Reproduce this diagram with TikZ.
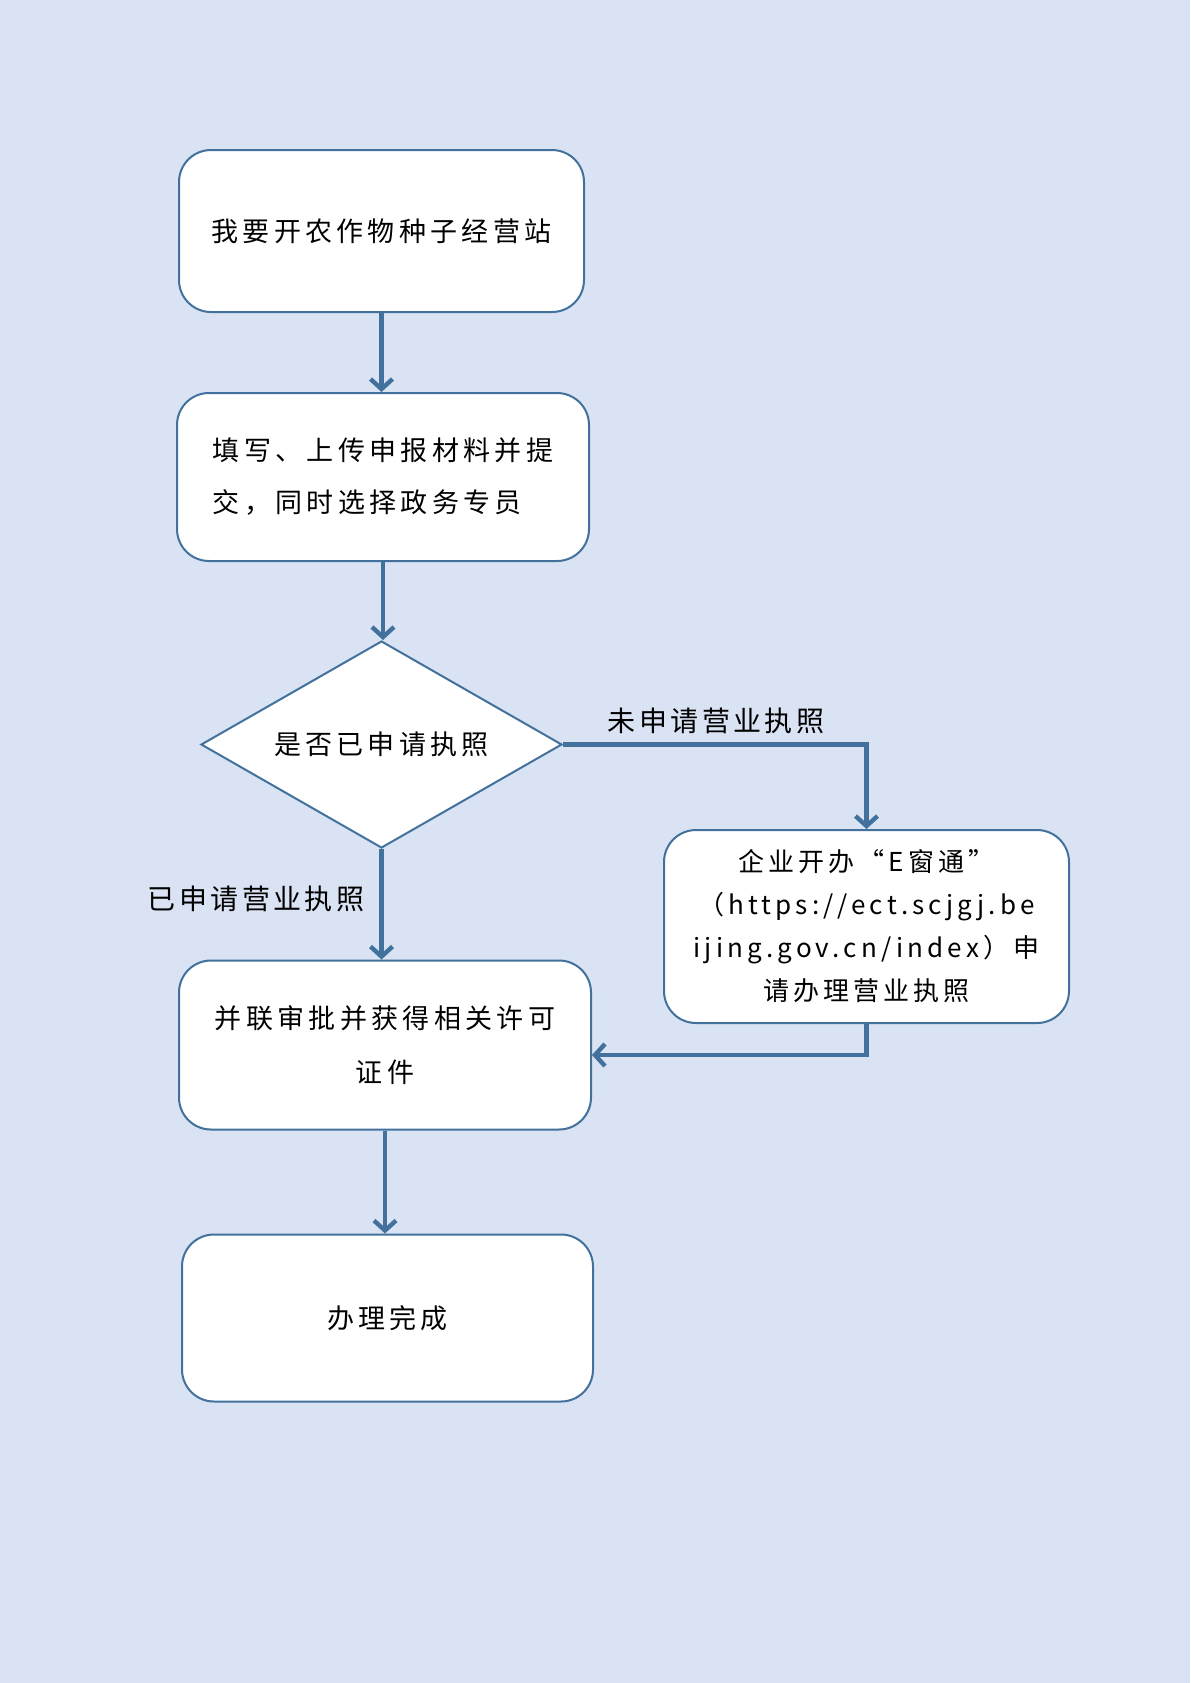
\documentclass[tikz,border=0pt]{standalone}
\usepackage{fontspec}
\newfontfamily\cjk[LetterSpace=16]{Noto Sans CJK SC}
\newfontfamily\cjklab[LetterSpace=12]{Noto Sans CJK SC}
\usetikzlibrary{arrows.meta, shapes.geometric}
\definecolor{pagebg}{HTML}{DAE3F3}
\definecolor{flowline}{HTML}{41719C}

\begin{document}
\begin{tikzpicture}[x=0.5pt, y=-0.5pt,
    stepbox/.style={shape=rectangle, rounded corners=16pt, draw=flowline, line width=1pt, fill=white, align=center, font=\cjk\fontsize{13.5}{26}\selectfont},
    askbox/.style={shape=diamond, aspect=1.75, draw=flowline, line width=1pt, fill=white, inner sep=0pt, font=\cjk\fontsize{13.5}{26}\selectfont},
    flowarrow/.style={draw=flowline, line width=2.2pt, -{Straight Barb[length=5pt, width=11pt]}},
    branchlabel/.style={font=\cjklab\fontsize{14}{17}\selectfont}]
\fill[pagebg] (0,0) rectangle (1190,1683);
\node[stepbox, minimum width=202.5pt, minimum height=81pt] (start) at (381.5, 231) {我要开农作物种子经营站};
\node[stepbox, minimum width=206pt, minimum height=84pt, align=left] (fill) at (383, 477) {填写、上传申报材料并提\\交，同时选择政务专员};
\node[askbox, minimum width=180.5pt, minimum height=103.5pt] (ask) at (381.5, 744.5) {是否已申请执照};
\node[stepbox, minimum width=202.5pt, minimum height=96.5pt, font=\cjk\fontsize{13}{21.5}\selectfont] (ewin) at (866.5, 926.5) {企业开办“E窗通”\\（https://ect.scjgj.be\\ijing.gov.cn/index）申\\请办理营业执照};
\node[stepbox, minimum width=206pt, minimum height=84.5pt, font=\cjk\fontsize{13.5}{27}\selectfont] (approve) at (385, 1045) {并联审批并获得相关许可\\证件};
\node[stepbox, minimum width=205.5pt, minimum height=83.5pt] (done) at (387.5, 1318) {办理完成};
\node[branchlabel] (nolic) at (716, 721) {未申请营业执照};
\node[branchlabel] (haslic) at (256, 899) {已申请营业执照};
\path[flowarrow] (start.south) -- (start.south |- fill.north);
\path[flowarrow] (fill.south) -- (fill.south |- ask.north);
\path[flowarrow] (ask.east) -| (ewin.north);
\path[flowarrow] (ask.south) -- (ask.south |- approve.north);
\path[flowarrow] (ewin.south) |- ([yshift=-5pt]approve.east);
\path[flowarrow] (approve.south) -- (approve.south |- done.north);
\end{tikzpicture}
\end{document}
